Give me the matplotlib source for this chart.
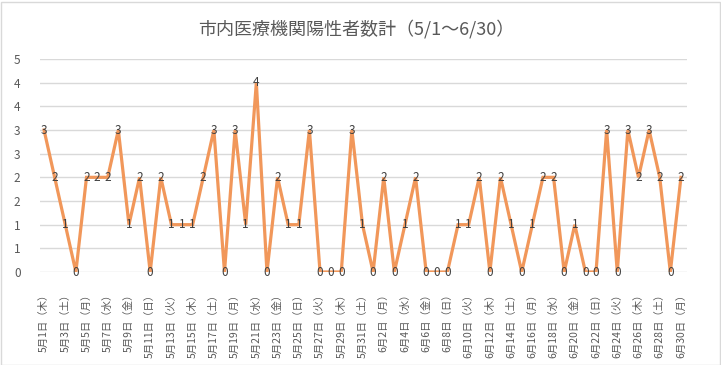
import pandas as pd
import matplotlib.pyplot as plt
from matplotlib.ticker import FixedLocator, FuncFormatter
from matplotlib.patches import Rectangle
import math

plt.rcParams['font.family'] = ['Noto Sans CJK JP', 'DejaVu Sans']

# daily positive counts, 5/1 - 6/30
dates = pd.date_range('2025-05-01', '2025-06-30', freq='D')
counts = [3, 2, 1, 0, 2, 2, 2, 3, 1, 2, 0, 2, 1, 1, 1, 2, 3, 0, 3, 1,
          4, 0, 2, 1, 1, 3, 0, 0, 0, 3, 1, 0, 2, 0, 1, 2, 0, 0, 0, 1,
          1, 2, 0, 2, 1, 0, 1, 2, 2, 0, 1, 0, 0, 3, 0, 3, 2, 3, 2, 0, 2]
weekdays = ['月', '火', '水', '木', '金', '土', '日']
labels = [f'{d.month}月{d.day}日（{weekdays[d.weekday()]}）' for d in dates]
title = '市内医療機関陽性者数計（5/1～6/30）'

fig = plt.figure(figsize=(7.21, 3.65), dpi=100)
ax = fig.add_axes([40 / 721, 1 - 272 / 365, 647 / 721, 213 / 365])

x = list(range(len(counts)))
ax.plot(x, counts, color='#F1975A', linewidth=2.3, solid_joinstyle='miter')

for xi, v in zip(x, counts):
    ax.text(xi, v, str(v), ha='center', va='center', fontsize=8.5, color='#404040')

ax.set_xlim(-0.38, 60.57)
ax.set_ylim(0, 4.5)

# Excel style axis: 0.5 step, labels rounded half up
ax.yaxis.set_major_locator(FixedLocator([i * 0.5 for i in range(10)]))
ax.yaxis.set_major_formatter(FuncFormatter(lambda v, p: str(int(math.floor(v + 0.5)))))
ax.grid(axis='y', color='#D9D9D9', linewidth=1)
ax.set_axisbelow(True)

ax.set_xticks(x[::2])
ax.set_xticklabels(labels[::2], rotation=90, fontsize=7.5, color='#595959')
ax.tick_params(axis='y', labelsize=8.5, labelcolor='#595959', length=0, pad=14)
ax.tick_params(axis='x', length=0, pad=12)

for s in ax.spines.values():
    s.set_visible(False)

fig.text(0.494, 1 - 29 / 365, title, ha='center', va='center', fontsize=13, color='#595959')

fig.patches.append(Rectangle((0.5 / 721, 0.5 / 365), 719.5 / 721, 363 / 365, transform=fig.transFigure,
                             fill=False, edgecolor='#D9D9D9', linewidth=1))

plt.savefig('out.png', dpi=100)
